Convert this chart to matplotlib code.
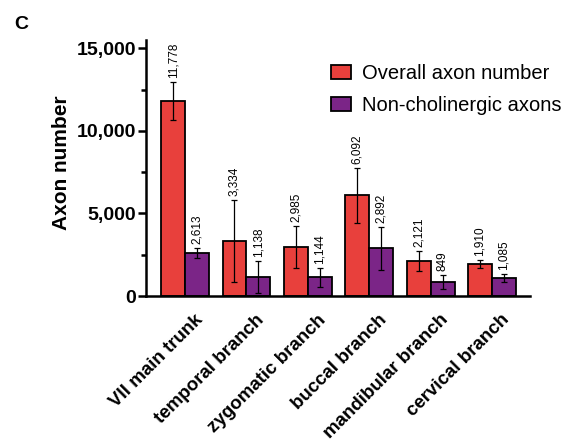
import matplotlib
matplotlib.use("Agg")
import matplotlib.pyplot as plt
from matplotlib.ticker import MultipleLocator, FuncFormatter
from matplotlib.transforms import ScaledTranslation
import numpy as np

plt.rcParams['font.family'] = ['Liberation Sans', 'DejaVu Sans']

categories = ["VII main trunk", "temporal branch", "zygomatic branch",
              "buccal branch", "mandibular branch", "cervical branch"]
overall = [11778, 3334, 2985, 6092, 2121, 1910]
overall_err = [1150, 2480, 1270, 1660, 600, 240]
nonchol = [2613, 1138, 1144, 2892, 849, 1085]
nonchol_err = [300, 980, 570, 1300, 440, 250]

red = "#E8403C"
purple = "#7B2587"

fig = plt.figure(figsize=(5.73, 4.46), dpi=100)
ax = fig.add_axes([0.255, 0.3363, 0.67, 0.574])

x = np.arange(len(categories))
w = 0.39
ax.bar(x - w/2, overall, w, color=red, edgecolor="black", linewidth=1.3,
       label="Overall axon number", zorder=2)
ax.bar(x + w/2, nonchol, w, color=purple, edgecolor="black", linewidth=1.3,
       label="Non-cholinergic axons", zorder=2)
ax.errorbar(x - w/2, overall, yerr=overall_err, fmt="none", ecolor="black",
            elinewidth=0.9, capsize=2.2, capthick=0.9, zorder=3)
ax.errorbar(x + w/2, nonchol, yerr=nonchol_err, fmt="none", ecolor="black",
            elinewidth=0.9, capsize=2.2, capthick=0.9, zorder=3)

for xi, v, e in zip(x - w/2, overall, overall_err):
    ax.annotate(f"{v:,}", (xi, v + e), xytext=(0, 3), textcoords="offset points",
                rotation=90, ha="center", va="bottom", fontsize=8.5)
for xi, v, e in zip(x + w/2, nonchol, nonchol_err):
    ax.annotate(f"{v:,}", (xi, v + e), xytext=(0, 3), textcoords="offset points",
                rotation=90, ha="center", va="bottom", fontsize=8.5)

ax.set_xlim(-0.635, 5.62)
ax.set_ylim(0, 15500)
ax.yaxis.set_major_locator(MultipleLocator(5000))
ax.yaxis.set_minor_locator(MultipleLocator(2500))
ax.yaxis.set_major_formatter(FuncFormatter(lambda v, p: f"{int(v):,}"))
ax.tick_params(axis="y", which="major", length=6, width=1.8, labelsize=14, pad=1)
ax.tick_params(axis="y", which="minor", length=3.5, width=1.8)
for lbl in ax.get_yticklabels():
    lbl.set_fontweight("bold")

ax.set_xticks(x)
ax.set_xticklabels(categories, rotation=45, ha="right", rotation_mode="anchor",
                   fontsize=13.5, fontweight="bold")
ax.tick_params(axis="x", length=0, pad=11)
offset = ScaledTranslation(9/100, 0, fig.dpi_scale_trans)
for lbl in ax.get_xticklabels():
    lbl.set_transform(lbl.get_transform() + offset)

for s in ["top", "right"]:
    ax.spines[s].set_visible(False)
for s in ["left", "bottom"]:
    ax.spines[s].set_linewidth(1.8)

ax.set_ylabel("Axon number", fontsize=15, fontweight="bold")
ax.yaxis.set_label_coords(-0.195, 0.52)

leg = ax.legend(loc="upper left", bbox_to_anchor=(0.449, 0.953), frameon=False,
                fontsize=14.5, handlelength=1.0, handleheight=0.7, handletextpad=0.55,
                labelspacing=0.62, borderaxespad=0.2)
for p in leg.get_patches():
    p.set_linewidth(1.3)

fig.text(0.025, 0.935, "C", fontsize=14, fontweight="bold")

fig.savefig("out.png", dpi=100)
